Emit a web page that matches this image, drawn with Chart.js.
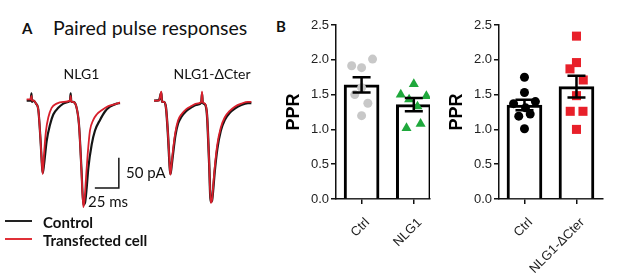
<!DOCTYPE html>
<html>
<head>
<meta charset="utf-8">
<script src="https://cdn.jsdelivr.net/npm/chart.js@4.4.1/dist/chart.umd.min.js"></script>
<style>
  body { margin: 0; background: #fff; }
  #fig { position: relative; width: 617px; height: 273px; overflow: hidden; font-family: Lato, sans-serif; color: #111; }
  #fig canvas, #fig .t, #fig .ln { position: absolute; }
  .t { white-space: nowrap; }
  .b { font-weight: bold; }
</style>
</head>
<body>
<div id="fig">
  <div class="t b" style="left:22px;top:18px;font-size:15px;line-height:20px">A</div>
  <div class="t" style="left:53px;top:17px;font-size:19.5px;line-height:22px">Paired pulse responses</div>
  <div class="t b" style="left:276px;top:16px;font-size:15px;line-height:20px">B</div>

  <canvas id="tr1" width="115" height="150" style="left:24px;top:62px"></canvas>
  <canvas id="tr2" width="120" height="150" style="left:152px;top:62px"></canvas>

  <div class="t" style="left:126px;top:162px;font-size:15px;line-height:20px">50 pA</div>
  <div class="t" style="left:88px;top:191px;font-size:15px;line-height:20px">25 ms</div>

  <div class="ln" style="left:5px;top:220px;width:27px;height:2px;background:#222"></div>
  <div class="t b" style="left:43px;top:212px;font-size:15px;line-height:20px">Control</div>
  <div class="ln" style="left:5px;top:238px;width:27px;height:2px;background:#e03038"></div>
  <div class="t b" style="left:43px;top:229.5px;font-size:15px;line-height:20px">Transfected cell</div>

  <canvas id="bar1" width="160" height="263" style="left:280px;top:10px"></canvas>
  <canvas id="bar2" width="174" height="263" style="left:443px;top:10px"></canvas>
</div>
<script>
// ---- panel A: paired pulse traces (time in ms, current in pA) ----
const nlg1CtrlT = [0, 4, 5, 5.5, 7.1, 9.7, 12.1, 14.4, 15.9, 16.7, 18, 20.8, 24.3, 27.7, 32.9, 38.1, 43.3, 45.1, 45.8, 46.5, 48.2, 51.4, 54.5, 57.1, 59, 60.7, 62.5, 64.2, 67.7, 71.1, 76.4, 81.6, 86.8, 93.8, 97.2];
const nlg1CtrlI = [0, 0, 12, -2, 0, -5, -15, -65, -107, -120, -107, -67, -40, -23, -12, -5, -2, 0, 12, -2, -2, -8, -40, -115, -173, -170, -145, -112, -73, -50, -32, -18, -10, -5, -4];
const nlg1TrT = [0, 4, 5, 5.5, 7.6, 9.7, 12.1, 14.4, 15.9, 16.7, 18, 20.1, 22.5, 26, 31.2, 38.1, 45.1, 45.8, 46.5, 48.2, 51.4, 54.5, 57.1, 59, 60.2, 61.8, 63.5, 65.9, 69.4, 72.9, 78.1, 85, 93.8, 97.2];
const nlg1TrI = [2, 2, 8, 0, 0, -5, -15, -65, -107, -122, -90, -50, -28, -12, -5, -2, 0, 8, -2, -2, -8, -40, -118, -177, -165, -128, -90, -50, -32, -23, -16, -9, -5, -3];

const dcterT = [0, 5.2, 7.6, 8.3, 10.4, 12.5, 14.6, 16.1, 17, 18.2, 19.8, 22.2, 25, 28.4, 33.6, 38.9, 44.1, 49.3, 50, 50.7, 53.1, 55.2, 57.3, 59.1, 60.4, 61.5, 63.2, 65.9, 69.5, 73.6, 78.9, 84.1, 90.9, 97.9, 101.4];
const dcterCtrlI = [0, 1, 13, -2, -2, -12, -58, -104, -122, -110, -88, -58, -38, -27, -17, -11, -7, -3, 12, -3, -6, -24, -98, -168, -166, -150, -118, -80, -50, -32, -20, -13, -7, -4, -4];
const dcterTrI = [0, 0, 15, -2, -2, -12, -57, -102, -123, -107, -82, -53, -33, -23, -14, -9, -5, -2, 15, -2, -5, -23, -98, -170, -165, -145, -112, -73, -45, -28, -17, -10, -5, -2, -2];

// scale bar: 25 ms x 50 pA
const scaleT = [71, 96, 96];
const scaleI = [-145, -145, -95];

// ---- panel B: paired pulse ratio ----
const cats1 = ['Ctrl', 'NLG1'];
const mean1 = [1.64, 1.355];
const sem1 = [0.11, 0.095];
const ctrl1PPR = [1.915, 1.887, 2.01, 1.60, 1.50, 1.375, 1.197];
const ctrl1Jit = [-0.19, 0, 0.21, 0, -0.13, 0.12, 0];
const nlg1PPR = [1.65, 1.50, 1.48, 1.43, 1.33, 1.02, 1.08];
const nlg1Jit = [0, -0.25, 0.24, -0.09, 0.07, -0.14, 0.13];

const cats2 = ['Ctrl', 'NLG1-\u0394Cter'];
const mean2 = [1.35, 1.615];
const sem2 = [0.075, 0.155];
const ctrl2PPR = [1.75, 1.53, 1.37, 1.40, 1.31, 1.19, 1.22, 1.01];
const ctrl2Jit = [0, 0, -0.21, 0.21, 0.02, -0.11, 0.11, 0];
const dcterPPR = [2.34, 1.96, 1.87, 1.71, 1.485, 1.26, 1.26, 1.00];
const dcterJit = [0, 0, -0.125, 0.13, 0, -0.12, 0.125, 0];

const black = '#151515';
const red = '#d8202c';

function pts(xs, ys) {
    return ys.map((v, i) => ({ x: xs[i], y: v }));
}

function traceChart(id, title, xmin, xmax, sets) {
    return new Chart(document.getElementById(id), {
        type: 'line',
        data: { datasets: sets },
        options: {
            responsive: false,
            animation: false,
            layout: { padding: 0 },
            elements: { point: { radius: 0 }, line: { borderWidth: 1.8, cubicInterpolationMode: 'monotone' } },
            plugins: {
                legend: { display: false },
                tooltip: { enabled: false },
                title: { display: true, text: title, color: '#111', font: { family: 'Lato', size: 14, weight: 'normal' }, padding: { top: 4, bottom: 5.2 } }
            },
            scales: {
                x: { type: 'linear', display: false, min: xmin, max: xmax },
                y: { display: false, min: -185, max: 21 }
            }
        }
    });
}

traceChart('tr1', 'NLG1', -2.8, 117, [
    { data: pts(nlg1TrT, nlg1TrI), borderColor: red, order: 0 },
    { data: pts(nlg1CtrlT, nlg1CtrlI), borderColor: black, borderWidth: 2.2, order: 1 },
    { data: pts(scaleT, scaleI), borderColor: black, borderWidth: 1.5, cubicInterpolationMode: 'default', tension: 0, order: 2 }
]);
traceChart('tr2', 'NLG1-\u0394Cter', -2.1, 122.9, [
    { data: pts(dcterT, dcterTrI), borderColor: red, order: 0 },
    { data: pts(dcterT, dcterCtrlI), borderColor: black, borderWidth: 2.4, order: 1 }
]);

// error bars (mean +/- SEM) drawn on top of bars and points
const errorBars = {
    id: 'errorBars',
    afterDatasetsDraw(chart, args, opts) {
        const { ctx, scales: { x, y } } = chart;
        ctx.save();
        ctx.strokeStyle = '#000';
        ctx.lineWidth = 2.5;
        opts.mean.forEach((m, i) => {
            const px = x.getPixelForValue(i);
            const top = y.getPixelForValue(m + opts.sem[i]);
            const bot = y.getPixelForValue(m - opts.sem[i]);
            ctx.beginPath();
            ctx.moveTo(px, top); ctx.lineTo(px, bot);
            ctx.moveTo(px - 9, top); ctx.lineTo(px + 9, top);
            ctx.moveTo(px - 9, bot); ctx.lineTo(px + 9, bot);
            ctx.stroke();
        });
        ctx.restore();
    }
};

const tickFont = { family: 'Liberation Sans', size: 13 };

function barChart(id, cats, mean, sem, groups, xmax, padRight) {
    const sets = [{
        type: 'bar',
        data: mean.map((m, i) => ({ x: i, y: m })),
        backgroundColor: '#fff',
        borderColor: '#000',
        borderWidth: 3,
        barThickness: 35,
        order: 1
    }];
    groups.forEach((g, gi) => {
        sets.push({
            type: 'scatter',
            data: g.vals.map((v, i) => ({ x: gi + g.jit[i], y: v })),
            pointStyle: g.style,
            pointRadius: g.r,
            backgroundColor: g.color,
            borderWidth: 0,
            order: 0
        });
    });
    return new Chart(document.getElementById(id), {
        type: 'bar',
        data: { datasets: sets },
        plugins: [errorBars],
        options: {
            responsive: false,
            animation: false,
            layout: { padding: { top: 15, right: padRight, left: 0, bottom: 0 } },
            plugins: {
                legend: { display: false },
                tooltip: { enabled: false },
                errorBars: { mean: mean, sem: sem }
            },
            scales: {
                x: {
                    type: 'linear',
                    offset: false,
                    min: -0.49,
                    max: xmax,
                    afterBuildTicks: (s) => { s.ticks = cats.map((c, i) => ({ value: i })); },
                    afterFit: (s) => { s.height = 74; s.paddingLeft = 0; s.paddingRight = 0; },
                    ticks: { callback: (v) => cats[v], minRotation: 45, maxRotation: 45, padding: 11, labelOffset: 6, color: '#222', font: tickFont },
                    grid: { offset: false, drawOnChartArea: false, tickLength: 5, color: '#111', lineWidth: 1.5 },
                    border: { color: '#111', width: 1.5 }
                },
                y: {
                    min: 0,
                    max: 2.5,
                    afterFit: (s) => { s.width = 56; s.paddingTop = 0; s.paddingBottom = 0; },
                    ticks: { stepSize: 0.5, callback: (v) => v.toFixed(1), padding: 2, color: '#222', font: tickFont },
                    grid: { drawOnChartArea: false, tickLength: 5, color: '#111', lineWidth: 1.5 },
                    border: { color: '#111', width: 1.5 },
                    title: { display: true, text: 'PPR', color: '#000', font: { family: 'Liberation Sans', size: 18, weight: 'bold' }, padding: { top: 3, bottom: 0 } }
                }
            }
        }
    });
}

barChart('bar1', cats1, mean1, sem1, [
    { vals: ctrl1PPR, jit: ctrl1Jit, style: 'circle', r: 4.5, color: '#c8c8c8' },
    { vals: nlg1PPR, jit: nlg1Jit, style: 'triangle', r: 5.8, color: '#1fa83c' }
], 1.31, 10);

barChart('bar2', cats2, mean2, sem2, [
    { vals: ctrl2PPR, jit: ctrl2Jit, style: 'circle', r: 4.5, color: '#000' },
    { vals: dcterPPR, jit: dcterJit, style: 'rect', r: 6.4, color: '#e8202a' }
], 1.51, 14);
</script>
</body>
</html>
